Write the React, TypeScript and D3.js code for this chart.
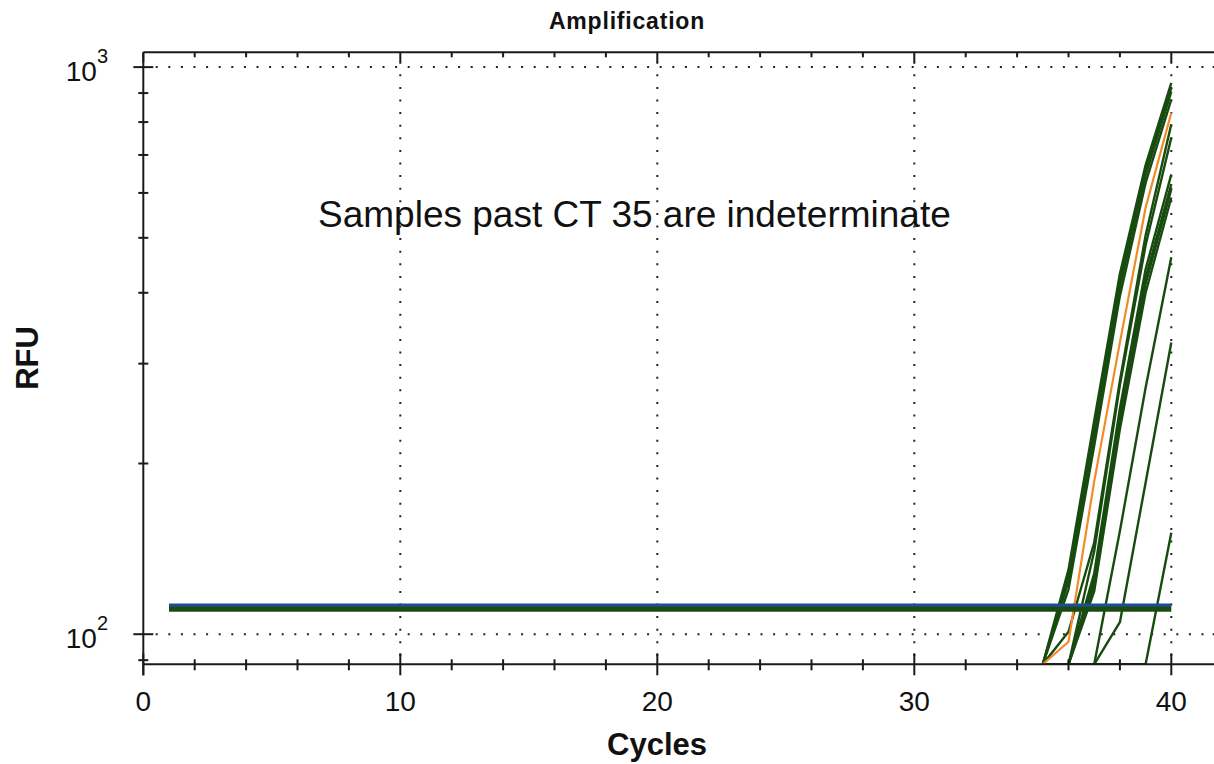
import React from "react";
import * as d3 from "d3";

// cycles shown in the amplification window (earlier cycles sit below the axis floor)
const cycles = [35, 36, 37, 38, 39, 40];

// RFU per cycle, one row per well (values under the floor get clamped to it)
const greenCurves: number[][] = [
  [70, 130, 238, 432, 672, 938],
  [70, 127, 230, 420, 658, 919],
  [70, 124, 224, 410, 645, 905],
  [70, 120, 215, 395, 625, 877],
  [70, 101, 145, 280, 505, 793],
  [75, 75, 140, 275, 485, 751],
  [75, 75, 128, 250, 440, 647],
  [75, 75, 125, 242, 425, 622],
  [75, 75, 122, 236, 415, 609],
  [75, 75, 119, 230, 400, 589],
  [70, 70, 80, 152, 272, 462],
  [70, 70, 80, 105, 185, 327],
  [60, 60, 60, 60, 80, 151],
];
const orangeCurve = [70, 97, 186, 327, 565, 831];

// threshold lines
const thresholdCycles = [1, 40];
const thresholdLevels = [112.5, 110.7];
const thresholdColors = ["#1f4e8f", "#1b4a12"];
const thresholdWidths = [3.6, 5];

// ticks
const xMajor = [0, 10, 20, 30, 40];
const xMinor = d3.range(0, 43, 2).filter((d) => d % 10 !== 0);
const xGrid = [10, 20, 30, 40];
const yMajor = [100, 1000];
const yMinor = [90, 200, 300, 400, 500, 600, 700, 800, 900];
const yLabels = ["2", "3"];

const W = 1214;
const H = 764;
const left = 143.3;
const top = 52.3;
const bottom = 664.3;
const yMin = 88.5;

const font = "'Liberation Sans', Arial, Helvetica, sans-serif";

export default function App() {
  const x = d3.scaleLinear().domain([0, 42]).range([left, 1222.7]);
  const y = d3.scaleLog().domain([yMin, 1062]).range([bottom, top]);
  const right = x(42);

  const line = d3
    .line<number>()
    .x((_, i) => x(cycles[i]))
    .y((v) => y(Math.max(v, yMin)));

  const axisColor = "#1a1a1a";

  return (
    <svg
      width={W}
      height={H}
      style={{ position: "absolute", left: 0, top: 0, background: "#fff" }}
      fontFamily={font}
    >
      <defs>
        <clipPath id="plot">
          <rect x={left} y={top} width={right - left} height={bottom - top} />
        </clipPath>
      </defs>

      {/* grid */}
      <g stroke="#222" strokeWidth={2} strokeDasharray="2 10.6">
        {xGrid.map((c) => (
          <line key={c} x1={x(c)} x2={x(c)} y1={top + 9.4} y2={bottom} />
        ))}
        {yMajor.map((v) => (
          <line key={v} x1={left + 12.4} x2={right} y1={y(v)} y2={y(v)} />
        ))}
      </g>

      {/* curves */}
      <g clipPath="url(#plot)" fill="none" strokeLinejoin="round">
        {greenCurves.map((c, i) => (
          <path key={i} d={line(c) || ""} stroke="#184b0f" strokeWidth={2.4} />
        ))}
        <path d={line(orangeCurve) || ""} stroke="#f28a26" strokeWidth={2.2} />
      </g>

      {/* threshold */}
      {thresholdLevels.map((v, i) => (
        <line
          key={i}
          x1={x(thresholdCycles[0])}
          x2={x(thresholdCycles[1])}
          y1={y(v)}
          y2={y(v)}
          stroke={thresholdColors[i]}
          strokeWidth={thresholdWidths[i]}
        />
      ))}

      {/* axes */}
      <g stroke={axisColor} strokeWidth={2}>
        <line x1={left} x2={left} y1={top} y2={bottom + 11} />
        <line x1={right} x2={right} y1={top} y2={bottom + 11} />
        <line x1={left} x2={right} y1={top} y2={top} />
        <line x1={left} x2={right} y1={bottom} y2={bottom} />
        {xMinor.map((c) => (
          <g key={c}>
            <line x1={x(c)} x2={x(c)} y1={bottom - 5} y2={bottom + 6} />
            <line x1={x(c)} x2={x(c)} y1={top} y2={top + 5} />
          </g>
        ))}
        {xMajor.map((c) => (
          <g key={c}>
            <line x1={x(c)} x2={x(c)} y1={bottom - 11} y2={bottom + 11} />
            <line x1={x(c)} x2={x(c)} y1={top} y2={top + 10} />
          </g>
        ))}
        {yMinor.map((v) => (
          <g key={v}>
            <line x1={left - 5} x2={left + 5} y1={y(v)} y2={y(v)} />
            <line x1={right - 5} x2={right + 5} y1={y(v)} y2={y(v)} />
          </g>
        ))}
        {yMajor.map((v) => (
          <g key={v}>
            <line x1={left - 10} x2={left + 10} y1={y(v)} y2={y(v)} />
            <line x1={right - 10} x2={right + 10} y1={y(v)} y2={y(v)} />
          </g>
        ))}
      </g>

      {/* tick labels */}
      <g fill="#111" fontSize={28}>
        {xMajor.map((c) => (
          <text key={c} x={x(c)} y={711} textAnchor="middle">
            {c}
          </text>
        ))}
        {yMajor.map((v, i) => (
          <text key={v} x={108} y={y(v) + 14} textAnchor="end">
            10
            <tspan dy={-18} fontSize={20}>
              {yLabels[i]}
            </tspan>
          </text>
        ))}
      </g>

      {/* titles */}
      <text
        x={627}
        y={29}
        textAnchor="middle"
        fontSize={23}
        fontWeight="bold"
        letterSpacing={0.8}
        fill="#111"
      >
        Amplification
      </text>
      <text
        x={657}
        y={755}
        textAnchor="middle"
        fontSize={31}
        fontWeight="bold"
        fill="#111"
      >
        Cycles
      </text>
      <text
        transform="translate(38,358) rotate(-90)"
        textAnchor="middle"
        fontSize={31}
        fontWeight="bold"
        fill="#111"
      >
        RFU
      </text>

      <text x={318} y={227} fontSize={37} fill="#111">
        Samples past CT 35 are indeterminate
      </text>
    </svg>
  );
}
